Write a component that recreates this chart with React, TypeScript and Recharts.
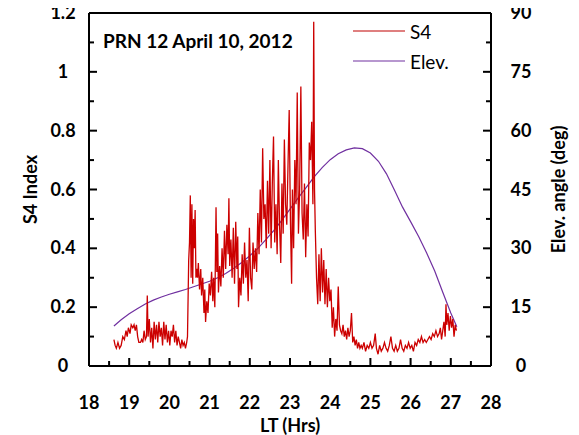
import { LineChart, Line, XAxis, YAxis, Legend } from "recharts";

// S4 index, [LT hours, value]
const s4Points: [number, number][] = [
  [18.62, 0.09], [18.65, 0.07], [18.68, 0.06], [18.72, 0.08], [18.76, 0.06], [18.8, 0.07],
  [18.84, 0.1], [18.88, 0.09], [18.92, 0.12], [18.95, 0.1], [18.98, 0.13], [19.02, 0.11],
  [19.05, 0.14], [19.09, 0.13], [19.12, 0.14], [19.15, 0.12], [19.18, 0.14], [19.21, 0.1],
  [19.24, 0.08], [19.28, 0.08], [19.31, 0.09], [19.34, 0.08], [19.37, 0.12], [19.4, 0.09],
  [19.43, 0.1], [19.45, 0.24], [19.47, 0.1], [19.5, 0.16], [19.53, 0.08], [19.56, 0.13],
  [19.59, 0.06], [19.62, 0.15], [19.65, 0.09], [19.68, 0.14], [19.71, 0.08], [19.74, 0.15],
  [19.77, 0.1], [19.8, 0.13], [19.83, 0.07], [19.86, 0.15], [19.89, 0.09], [19.92, 0.14],
  [19.95, 0.08], [19.98, 0.12], [20.01, 0.07], [20.04, 0.12], [20.07, 0.1], [20.1, 0.14],
  [20.13, 0.08], [20.16, 0.12], [20.19, 0.07], [20.22, 0.1], [20.25, 0.08], [20.28, 0.06],
  [20.31, 0.09], [20.34, 0.07], [20.37, 0.08], [20.4, 0.06], [20.43, 0.08], [20.45, 0.1],
  [20.48, 0.36], [20.5, 0.42], [20.52, 0.58], [20.54, 0.3], [20.56, 0.55], [20.58, 0.28],
  [20.6, 0.5], [20.62, 0.4], [20.64, 0.53], [20.66, 0.3], [20.68, 0.33], [20.7, 0.3],
  [20.72, 0.35], [20.75, 0.26], [20.78, 0.33], [20.8, 0.24], [20.83, 0.3], [20.86, 0.18],
  [20.88, 0.26], [20.9, 0.15], [20.93, 0.22], [20.96, 0.18], [20.99, 0.28], [21.02, 0.24],
  [21.05, 0.32], [21.08, 0.22], [21.1, 0.3], [21.13, 0.2], [21.16, 0.54], [21.18, 0.32],
  [21.2, 0.45], [21.22, 0.25], [21.25, 0.34], [21.28, 0.27], [21.31, 0.4], [21.34, 0.3],
  [21.37, 0.46], [21.4, 0.33], [21.43, 0.48], [21.46, 0.38], [21.48, 0.57], [21.5, 0.34],
  [21.53, 0.43], [21.56, 0.3], [21.59, 0.47], [21.62, 0.28], [21.65, 0.49], [21.68, 0.33],
  [21.7, 0.44], [21.72, 0.2], [21.75, 0.3], [21.78, 0.24], [21.81, 0.38], [21.84, 0.28],
  [21.87, 0.42], [21.9, 0.3], [21.93, 0.36], [21.96, 0.22], [21.99, 0.47], [22.02, 0.3],
  [22.05, 0.26], [22.08, 0.42], [22.11, 0.33], [22.14, 0.4], [22.17, 0.32], [22.2, 0.52],
  [22.23, 0.38], [22.26, 0.6], [22.29, 0.42], [22.32, 0.74], [22.35, 0.5], [22.38, 0.55],
  [22.41, 0.4], [22.44, 0.63], [22.47, 0.45], [22.5, 0.7], [22.53, 0.4], [22.56, 0.62],
  [22.59, 0.78], [22.62, 0.42], [22.65, 0.55], [22.68, 0.38], [22.71, 0.7], [22.74, 0.48],
  [22.77, 0.35], [22.8, 0.62], [22.83, 0.45], [22.86, 0.77], [22.89, 0.55], [22.92, 0.48],
  [22.95, 0.68], [22.98, 0.87], [23.01, 0.5], [23.04, 0.28], [23.06, 0.6], [23.09, 0.4],
  [23.12, 0.7], [23.15, 0.55], [23.18, 0.93], [23.21, 0.45], [23.24, 0.6], [23.27, 0.95],
  [23.3, 0.52], [23.33, 0.43], [23.36, 0.62], [23.39, 0.37], [23.42, 0.55], [23.45, 0.44],
  [23.48, 0.76], [23.51, 0.7], [23.54, 0.83], [23.57, 0.55], [23.59, 1.17], [23.61, 0.6],
  [23.63, 0.46], [23.66, 0.3], [23.69, 0.21], [23.72, 0.38], [23.75, 0.22], [23.78, 0.4],
  [23.81, 0.25], [23.84, 0.36], [23.87, 0.21], [23.9, 0.33], [23.93, 0.2], [23.96, 0.3],
  [23.99, 0.22], [24.02, 0.26], [24.05, 0.13], [24.08, 0.2], [24.11, 0.1], [24.14, 0.16],
  [24.17, 0.12], [24.2, 0.27], [24.23, 0.14], [24.26, 0.12], [24.29, 0.11], [24.32, 0.14],
  [24.35, 0.1], [24.38, 0.12], [24.41, 0.09], [24.44, 0.13], [24.47, 0.1], [24.5, 0.12],
  [24.53, 0.18], [24.56, 0.08], [24.59, 0.1], [24.62, 0.07], [24.65, 0.09], [24.68, 0.06],
  [24.71, 0.08], [24.74, 0.06], [24.77, 0.07], [24.8, 0.06], [24.84, 0.08], [24.88, 0.05],
  [24.92, 0.07], [24.96, 0.06], [25.0, 0.08], [25.04, 0.06], [25.08, 0.07], [25.12, 0.11],
  [25.15, 0.06], [25.19, 0.04], [25.23, 0.07], [25.27, 0.05], [25.31, 0.06], [25.35, 0.08],
  [25.39, 0.06], [25.43, 0.05], [25.47, 0.07], [25.51, 0.1], [25.55, 0.06], [25.59, 0.05],
  [25.63, 0.07], [25.67, 0.05], [25.71, 0.06], [25.75, 0.09], [25.79, 0.06], [25.83, 0.05],
  [25.87, 0.07], [25.91, 0.06], [25.95, 0.08], [25.99, 0.06], [26.03, 0.07], [26.07, 0.05],
  [26.11, 0.08], [26.15, 0.07], [26.19, 0.09], [26.23, 0.08], [26.27, 0.1], [26.31, 0.08],
  [26.35, 0.09], [26.39, 0.08], [26.43, 0.09], [26.47, 0.1], [26.51, 0.09], [26.55, 0.11],
  [26.59, 0.1], [26.63, 0.12], [26.67, 0.1], [26.71, 0.11], [26.74, 0.13], [26.77, 0.09],
  [26.8, 0.12], [26.83, 0.15], [26.86, 0.1], [26.88, 0.21], [26.9, 0.14], [26.93, 0.18],
  [26.96, 0.12], [26.99, 0.17], [27.02, 0.13], [27.05, 0.16], [27.08, 0.1], [27.11, 0.14],
  [27.14, 0.12],
];

// elevation angle (deg), [LT hours, value]
const elevPoints: [number, number][] = [
  [18.62, 10.2], [18.8, 11.8], [19.0, 13.3], [19.2, 14.6], [19.4, 15.8], [19.6, 16.8],
  [19.8, 17.6], [20.0, 18.3], [20.2, 18.9], [20.4, 19.5], [20.6, 20.2], [20.8, 20.9],
  [21.0, 21.6], [21.2, 22.5], [21.4, 23.6], [21.6, 24.9], [21.8, 26.4], [22.0, 28.1],
  [22.2, 30.0], [22.4, 32.2], [22.6, 34.6], [22.8, 37.2], [23.0, 40.0], [23.2, 42.8],
  [23.4, 45.5], [23.6, 48.2], [23.8, 50.6], [24.0, 52.6], [24.2, 54.1], [24.4, 55.1],
  [24.6, 55.6], [24.8, 55.4], [25.0, 54.3], [25.2, 52.2], [25.4, 49.0], [25.6, 44.8],
  [25.8, 40.5], [26.0, 36.8], [26.2, 33.0], [26.4, 28.8], [26.6, 24.2], [26.8, 18.8],
  [27.0, 13.5], [27.15, 10.0],
];

const xTicks = [18, 18.5, 19, 19.5, 20, 20.5, 21, 21.5, 22, 22.5, 23, 23.5, 24, 24.5, 25, 25.5, 26, 26.5, 27, 27.5, 28];
const s4Ticks = [0, 0.1, 0.2, 0.3, 0.4, 0.5, 0.6, 0.7, 0.8, 0.9, 1.0, 1.1, 1.2];
const elevTicks = [0, 7.5, 15, 22.5, 30, 37.5, 45, 52.5, 60, 67.5, 75, 82.5, 90];

const s4Data = s4Points.map(([t, v]) => ({ t, s4: v }));
const elevData = elevPoints.map(([t, v]) => ({ t, elev: v }));

const FONT = "Lato, 'Open Sans', sans-serif";

const isMajor = (v: number, step: number) => Math.abs(v / step - Math.round(v / step)) < 1e-6;

const labelStyle = { fontSize: 18, fontWeight: 700, fontFamily: FONT, fill: "#000" };

// tick = inward mark + label (majors only). tickSize is 0, so the axis sits tickMargin away from (x, y)
const GAP = 2;
const MAJOR_LEN = 8;
const MINOR_LEN = 5;

function BottomTick({ x, y, payload }: any) {
  const v = Number(payload.value);
  const major = isMajor(v, 1);
  const ax = Number(x);
  const ay = Number(y) - GAP;
  const len = major ? MAJOR_LEN : MINOR_LEN;
  return (
    <g>
      <rect x={ax - 1} y={ay - len} width={2} height={len} fill="#000" />
      {major && (
        <text x={ax} y={ay + 43} textAnchor="middle" {...labelStyle}>
          {v}
        </text>
      )}
    </g>
  );
}

function LeftTick({ x, y, payload }: any) {
  const v = Number(payload.value);
  const major = isMajor(v, 0.2);
  const ax = Number(x) + GAP;
  const ay = Number(y);
  return (
    <g>
      <rect x={ax} y={ay - 1} width={major ? MAJOR_LEN : MINOR_LEN} height={2} fill="#000" />
      {major && (
        <text x={ax - 26} y={ay + 6} textAnchor="middle" {...labelStyle}>
          {Number(v.toFixed(1))}
        </text>
      )}
    </g>
  );
}

function RightTick({ x, y, payload }: any) {
  const v = Number(payload.value);
  const major = isMajor(v, 15);
  const ax = Number(x) - GAP;
  const ay = Number(y);
  const len = major ? MAJOR_LEN : MINOR_LEN;
  return (
    <g>
      <rect x={ax - len} y={ay - 1} width={len} height={2} fill="#000" />
      {major && (
        <text x={ax + 30} y={ay + 6} textAnchor="middle" {...labelStyle}>
          {v}
        </text>
      )}
    </g>
  );
}

function LegendBox() {
  const rows = [
    { name: "S4", color: "#C00000" },
    { name: "Elev.", color: "#7030A0" },
  ];
  return (
    <div style={{ fontFamily: FONT, fontSize: 19, color: "#000" }}>
      {rows.map((r) => (
        <div key={r.name} style={{ display: "flex", alignItems: "center", height: 30 }}>
          <svg width={52} height={4} style={{ marginRight: 5 }}>
            <line x1={0} x2={52} y1={2} y2={2} stroke={r.color} strokeWidth={1.2} />
          </svg>
          <span>{r.name}</span>
        </div>
      ))}
    </div>
  );
}

const axisLine = { stroke: "#000", strokeWidth: 2 };

export default function App() {
  return (
    <div style={{ position: "relative", width: 579, height: 435, margin: "-8px 0 0 -8px", background: "#fff" }}>
      <LineChart width={579} height={435} margin={{ top: 12, right: 0, bottom: 0, left: 0 }}>
        <XAxis
          type="number"
          dataKey="t"
          domain={[18, 28]}
          ticks={xTicks}
          interval={0}
          height={69}
          stroke="#000"
          tickSize={0}
          tickMargin={GAP}
          tick={<BottomTick />}
          tickLine={false}
          axisLine={axisLine}
          label={{ value: "LT (Hrs)", position: "center", dy: 25, ...labelStyle }}
        />
        <XAxis
          xAxisId="top"
          orientation="top"
          type="number"
          dataKey="t"
          domain={[18, 28]}
          height={1}
          stroke="#000"
          tick={false}
          tickLine={false}
          axisLine={axisLine}
        />
        <YAxis
          yAxisId="left"
          domain={[0, 1.2]}
          ticks={s4Ticks}
          interval={0}
          width={89}
          stroke="#000"
          tickSize={0}
          tickMargin={GAP}
          tick={<LeftTick />}
          tickLine={false}
          axisLine={axisLine}
          label={{ value: "S4 Index", angle: -90, position: "center", dx: -14, ...labelStyle }}
        />
        <YAxis
          yAxisId="right"
          orientation="right"
          domain={[0, 90]}
          ticks={elevTicks}
          interval={0}
          width={88}
          stroke="#000"
          tickSize={0}
          tickMargin={GAP}
          tick={<RightTick />}
          tickLine={false}
          axisLine={axisLine}
          label={{ value: "Elev. angle (deg)", angle: -90, position: "center", dx: 24, ...labelStyle }}
        />
        <Line
          yAxisId="right"
          data={elevData}
          dataKey="elev"
          stroke="#7030A0"
          strokeWidth={1.2}
          dot={false}
          isAnimationActive={false}
        />
        <Line
          yAxisId="left"
          data={s4Data}
          dataKey="s4"
          stroke="#CC0000"
          strokeWidth={1.3}
          dot={false}
          isAnimationActive={false}
        />
        <Legend
          layout="vertical"
          align="center"
          verticalAlign="middle"
          content={<LegendBox />}
          wrapperStyle={{ top: 16, left: 353, width: 120 }}
        />
      </LineChart>
      <div
        style={{
          position: "absolute",
          left: 103,
          top: 29,
          fontFamily: FONT,
          fontSize: 19,
          fontWeight: 700,
          color: "#000",
          whiteSpace: "nowrap",
        }}
      >
        PRN 12 April 10, 2012
      </div>
    </div>
  );
}
